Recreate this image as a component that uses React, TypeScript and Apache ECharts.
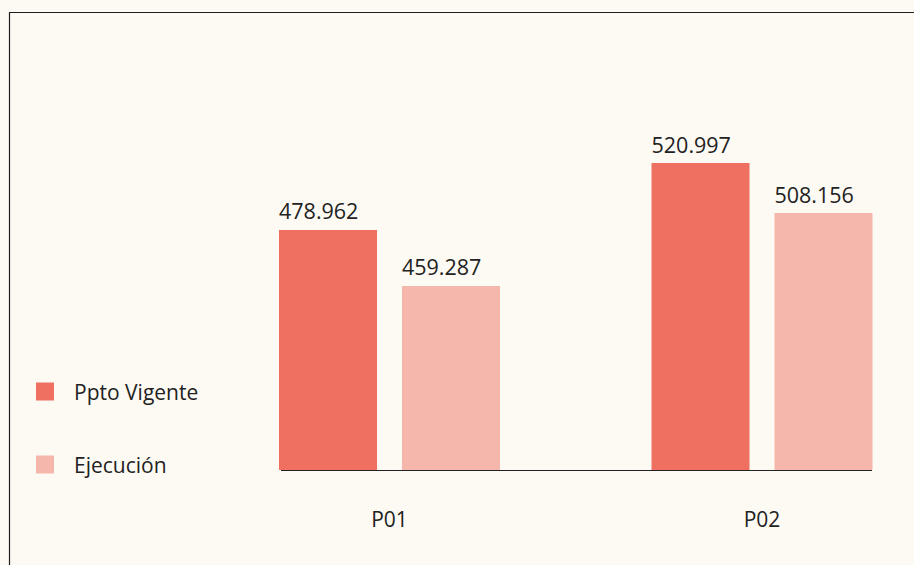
import React, { useEffect, useRef } from "react";
import * as echarts from "echarts";

// Categories and series (labels shown above bars)
const categories = ["P01", "P02"];
const seriesNames = ["Ppto Vigente", "Ejecución"];
const pptoLabels = ["478.962", "520.997"];
const ejecLabels = ["459.287", "508.156"];
// Bar heights (same scale as the tallest bar, 520.997)
const pptoBars = [407.3, 520.997];
const ejecBars = [312.3, 436.1];

const COLOR_PPTO = "#ef7060";
const COLOR_EJEC = "#f5b6ab";
const BG = "#fdfaf3";
const TEXT = "#222222";
const FONT = "'Open Sans', sans-serif";

export default function App() {
  const ref = useRef<HTMLDivElement>(null);
  useEffect(() => {
    if (!ref.current) return;
    const chart = echarts.init(ref.current, undefined, { renderer: "svg" });
    const labelStyle = {
      show: true,
      position: [0, -8],
      align: "left",
      verticalAlign: "bottom",
      fontSize: 21.5,
      fontFamily: FONT,
      color: TEXT,
    };
    chart.setOption({
      animation: false,
      backgroundColor: BG,
      textStyle: { fontFamily: FONT },
      grid: { left: 389.5, top: 163, right: 152, bottom: 95 },
      legend: {
        orient: "vertical",
        left: 36,
        top: 381,
        padding: 0,
        itemWidth: 18,
        itemHeight: 18,
        itemGap: 52,
        icon: "rect",
        textStyle: { fontSize: 21, color: TEXT, fontFamily: FONT, padding: [0, 0, 0, 15] },
        data: seriesNames,
      },
      xAxis: {
        type: "category",
        data: categories,
        boundaryGap: false,
        axisLine: { show: false },
        axisTick: { show: false },
        axisLabel: { margin: 38, fontSize: 21, color: TEXT, fontFamily: FONT },
      },
      yAxis: {
        type: "value",
        min: 0,
        max: "dataMax",
        show: false,
        splitLine: { show: false },
      },
      graphic: [
        {
          type: "rect",
          shape: { x: 9.5, y: 12.5, width: 1200, height: 1200 },
          style: { fill: "none", stroke: "#1e1e1e", lineWidth: 1.2 },
          silent: true,
        },
        {
          type: "line",
          shape: { x1: 281, y1: 470.5, x2: 872, y2: 470.5 },
          style: { stroke: "#222", lineWidth: 1.2 },
          silent: true,
        },
      ],
      series: [
        {
          name: seriesNames[0],
          type: "bar",
          data: pptoBars,
          clip: false,
          barWidth: 98,
          barGap: "25.5%",
          itemStyle: { color: COLOR_PPTO },
          label: { ...labelStyle, formatter: (p: any) => pptoLabels[p.dataIndex] },
        },
        {
          name: seriesNames[1],
          type: "bar",
          data: ejecBars,
          clip: false,
          barWidth: 98,
          barGap: "25.5%",
          itemStyle: { color: COLOR_EJEC },
          label: { ...labelStyle, formatter: (p: any) => ejecLabels[p.dataIndex] },
        },
      ],
    });
    return () => chart.dispose();
  }, []);
  return (
    <div
      ref={ref}
      style={{ position: "fixed", left: 0, top: 0, width: 914, height: 565, background: BG }}
    />
  );
}
